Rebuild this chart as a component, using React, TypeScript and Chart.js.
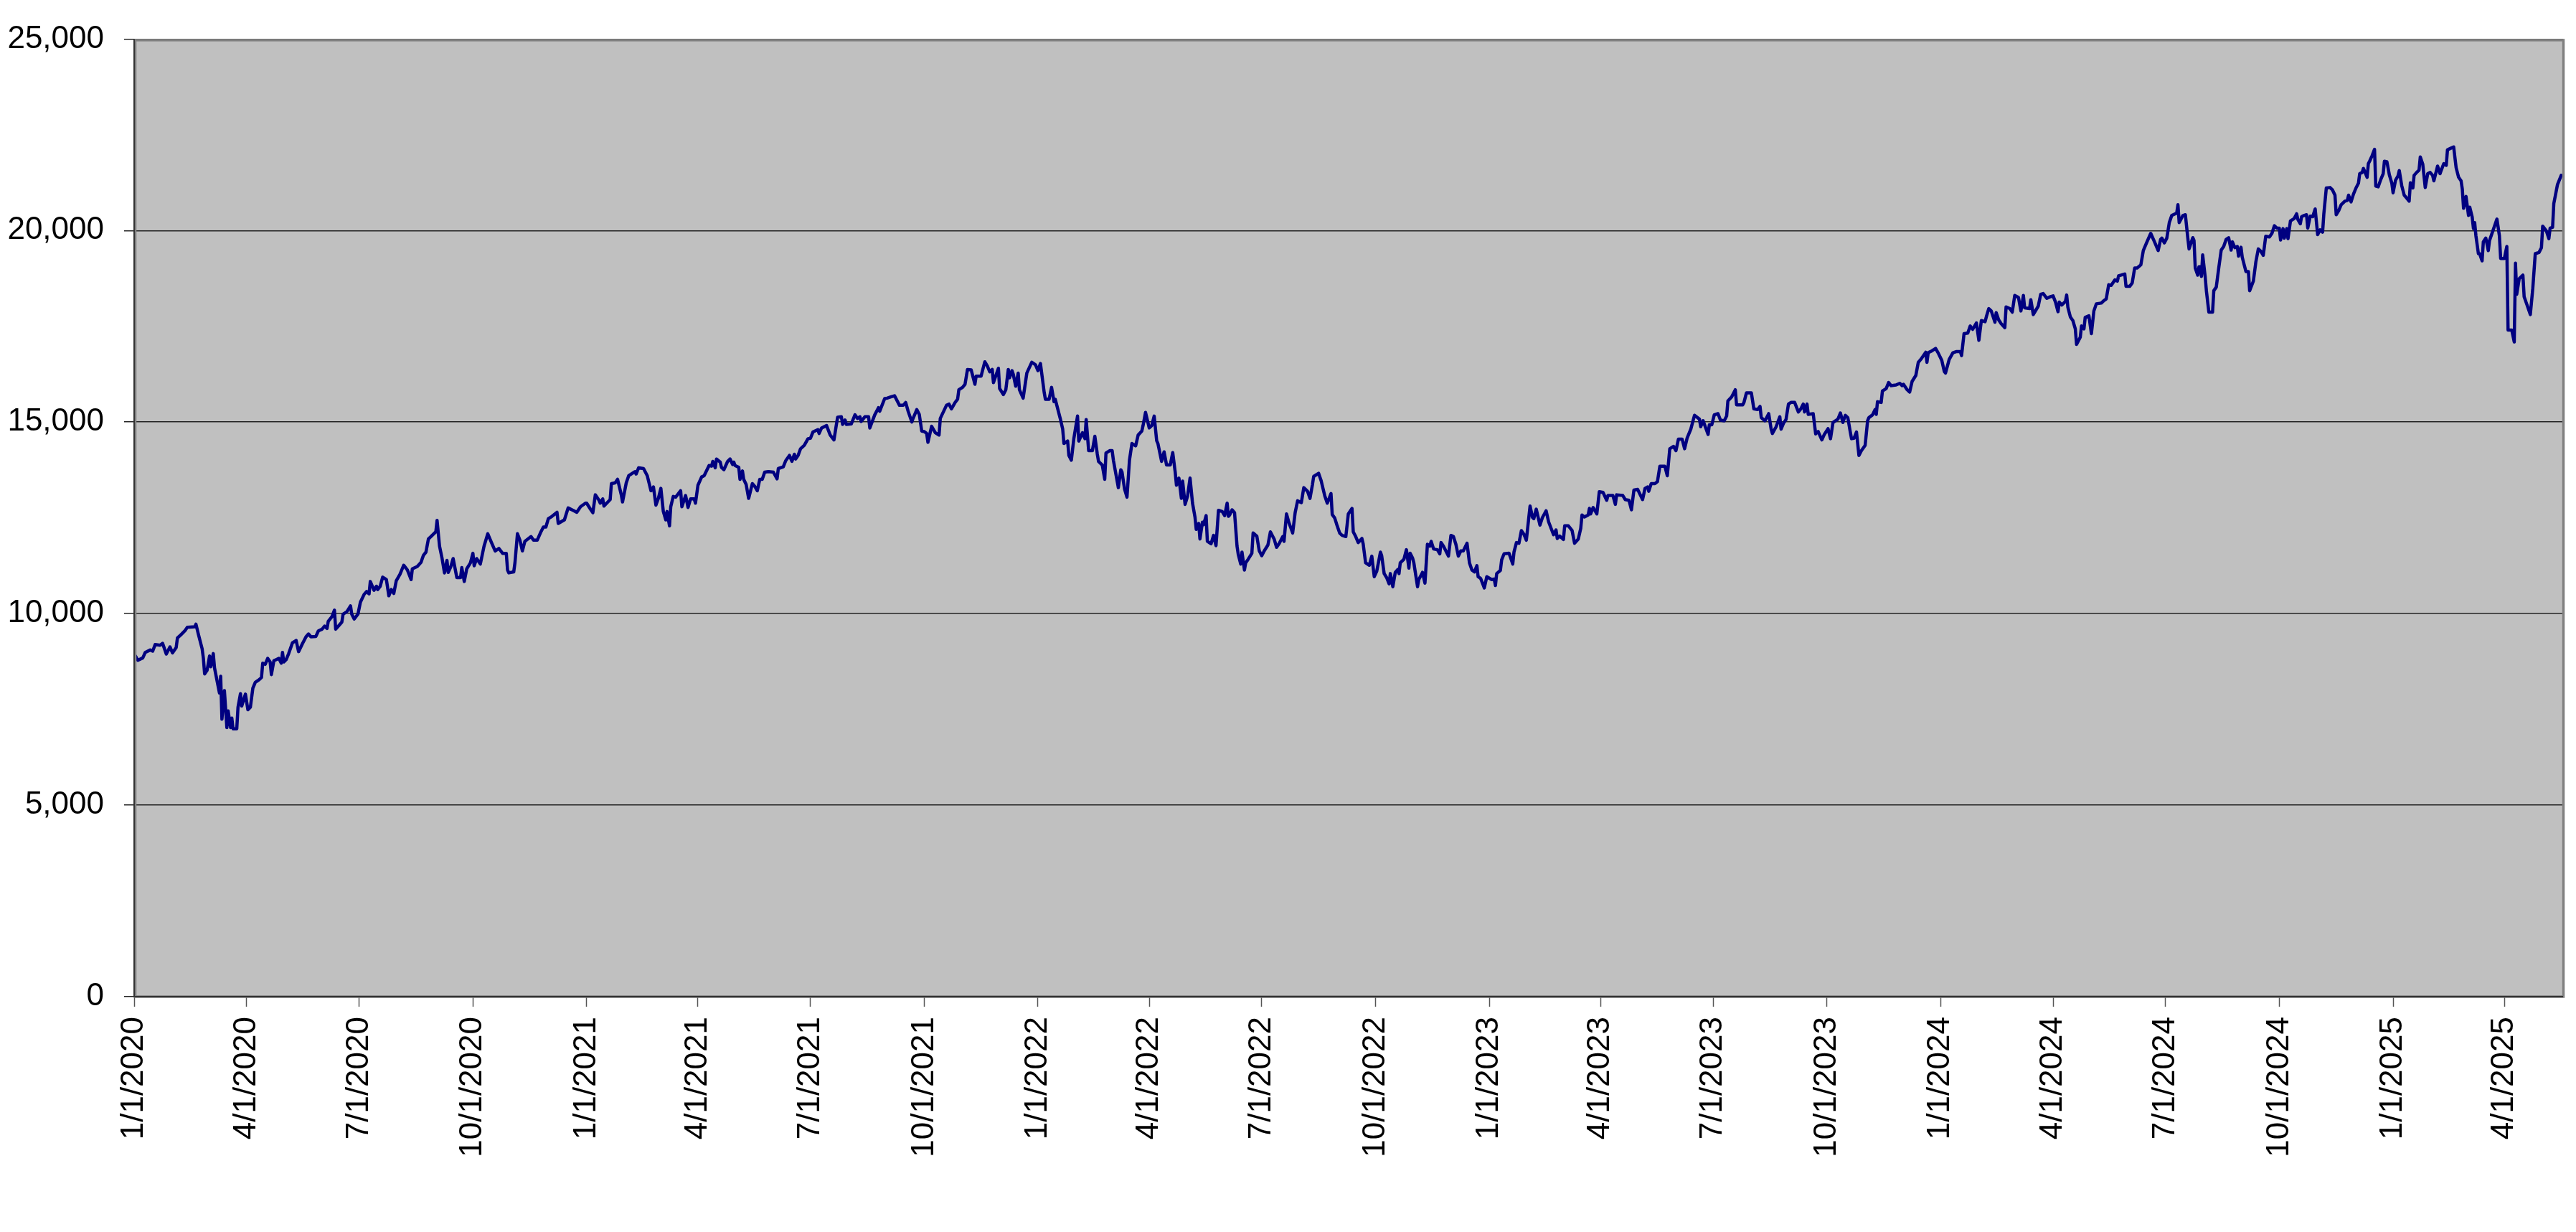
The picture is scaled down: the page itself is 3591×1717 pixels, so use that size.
import React, { useEffect, useRef } from 'react';
import { Chart, registerables } from 'chart.js';

Chart.register(...registerables);

// Quarter tick positions (days after 1/1/2020) and their labels
const tickDays = [0, 91, 182, 274, 366, 456, 547, 639, 731, 821, 912, 1004, 1096, 1186, 1277, 1369, 1461, 1552, 1643, 1735, 1827, 1917];
const tickLabels = [
  '1/1/2020', '4/1/2020', '7/1/2020', '10/1/2020',
  '1/1/2021', '4/1/2021', '7/1/2021', '10/1/2021',
  '1/1/2022', '4/1/2022', '7/1/2022', '10/1/2022',
  '1/1/2023', '4/1/2023', '7/1/2023', '10/1/2023',
  '1/1/2024', '4/1/2024', '7/1/2024', '10/1/2024',
  '1/1/2025', '4/1/2025',
];
const axisMaxDay = 1964.5;
const yMin = 0;
const yMax = 25000;
const yStep = 5000;

// Observation dates (days after 1/1/2020)
const dayOffsets = [
  1, 3, 7, 9, 13, 15, 17, 21, 23, 26,
  29, 31, 34, 35, 38, 41, 43, 49, 50, 52,
  55, 56, 57, 59, 61, 62, 64, 65, 69, 70,
  71, 73, 75, 76, 78, 79, 80, 83, 84, 86,
  87, 90, 92, 94, 96, 98, 101, 103, 104, 106,
  108, 110, 111, 113, 115, 117, 119, 120, 121, 123,
  125, 128, 131, 133, 136, 139, 141, 143, 147, 149,
  152, 154, 156, 157, 160, 162, 163, 166, 168, 169,
  172, 175, 176, 178, 181, 183, 186, 188, 190, 191,
  194, 196, 197, 199, 201, 204, 206, 208, 210, 212,
  215, 218, 221, 224, 225, 229, 232, 234, 236, 238,
  240, 244, 245, 247, 249, 251, 253, 254, 256, 258,
  261, 264, 265, 267, 269, 272, 274, 275, 277, 280,
  283, 286, 289, 292, 295, 298, 301, 302, 303, 307,
  308, 310, 312, 314, 316, 321, 323, 326, 329, 331,
  // 2021
  333, 335, 338, 342, 343, 348, 351, 355, 358, 361,
  365, 366, 369, 371, 373, 376, 377, 379, 380, 385,
  386, 389, 391, 394, 395, 398, 400, 405, 406, 408,
  412, 415, 418, 420, 422, 424, 426, 428, 430, 431,
  433, 434, 436, 438, 442, 443, 446, 448, 450, 453,
  454, 456, 459, 461, 465, 467, 468, 470, 471, 474,
  475, 477, 480, 482, 484, 485, 486, 489, 490, 492,
  493, 495, 497, 500, 502, 504, 506, 508, 510, 513,
  517, 520, 521, 525, 527, 530, 532, 534, 535, 537,
  539, 542, 545, 547, 549, 553, 554, 556, 560, 563,
  566, 568, 569, 572, 573, 575, 576, 580, 583, 585,
  587, 588, 591, 594, 595, 599, 602, 603, 607, 609,
  612, 615, 619, 622, 624, 626, 629, 630, 633, 635,
  637, 639, 641, 642, 645, 648, 651, 652, 657,
  // late 2021 - 2022
  659, 661, 664, 666, 667, 670, 672, 674, 677, 680,
  681, 685, 686, 688, 690, 692, 694, 695, 699, 700,
  703, 705, 707, 708, 710, 711, 713, 715, 716, 719,
  722, 726, 729, 731, 733, 736, 737, 740, 742, 744,
  745, 747, 749, 751, 752, 755, 756, 758, 760, 763,
  764, 767, 769, 770, 772, 775, 777, 779, 780, 783,
  785, 786, 789, 791, 792, 796, 798, 799, 801, 803,
  805, 807, 810, 812, 815, 816, 818, 821, 823, 825,
  827, 828, 831, 833, 835, 838, 840, 842, 843, 845,
  847, 848, 850, 852, 854, 856, 858, 859, 861, 862,
  864, 865, 867, 868, 871, 873, 875, 877, 880, 882,
  884, 885, 886, 888, 890, 892, 893, 895, 896, 898,
  899, 901, 904, 905, 908, 910, 912, 914, 917, 919,
  922, 924, 926, 929, 930, 932, 934, 937, 939, 941,
  944, 946, 949, 951, 953, 954, 958, 960, 963, 965,
  968, 969, 971, 973, 975, 977, 980, 982, 985,
  // late 2022 - 2023
  986, 988, 990, 993, 994, 996, 999, 1001, 1003, 1005,
  1008, 1009, 1011, 1013, 1015, 1016, 1018, 1020, 1022, 1023,
  1024, 1027, 1029, 1031, 1032, 1034, 1035, 1038, 1039, 1042,
  1044, 1046, 1048, 1049, 1051, 1054, 1056, 1057, 1059, 1063,
  1065, 1067, 1069, 1071, 1073, 1075, 1078, 1080, 1082, 1084,
  1086, 1087, 1089, 1092, 1094, 1098, 1100, 1101, 1102, 1105,
  1106, 1108, 1112, 1115, 1116, 1118, 1120, 1122, 1124, 1126,
  1129, 1131, 1132, 1134, 1137, 1139, 1142, 1144, 1148, 1150,
  1151, 1153, 1156, 1157, 1160, 1163, 1165, 1168, 1170, 1171,
  1173, 1176, 1177, 1178, 1180, 1183, 1185, 1188, 1191, 1192,
  1196, 1198, 1199, 1204, 1206, 1209, 1211, 1213, 1216, 1220,
  1222, 1224, 1225, 1227, 1230, 1232, 1234, 1238, 1240, 1242,
  1245, 1247, 1249, 1252, 1254, 1256, 1259, 1262, 1266, 1267,
  1269, 1273, 1274, 1276, 1278, 1281, 1283, 1286, 1288, 1289,
  1292, 1295, 1296, 1301, 1302, 1304, 1308, 1310, 1313,
  // late 2023 - mid 2024
  1315, 1316, 1319, 1322, 1324, 1325, 1328, 1331, 1332, 1334,
  1336, 1338, 1340, 1343, 1346, 1348, 1350, 1351, 1353, 1354,
  1358, 1360, 1362, 1365, 1367, 1370, 1372, 1374, 1378, 1380,
  1382, 1384, 1386, 1388, 1389, 1391, 1393, 1395, 1397, 1400,
  1402, 1403, 1406, 1408, 1409, 1410, 1413, 1414, 1417, 1419,
  1421, 1425, 1428, 1430, 1431, 1434, 1436, 1438, 1441, 1443,
  1445, 1449, 1450, 1451, 1454, 1457, 1459, 1462, 1464, 1465,
  1468, 1471, 1474, 1477, 1478, 1480, 1483, 1485, 1487, 1490,
  1492, 1494, 1497, 1498, 1500, 1502, 1505, 1506, 1508, 1510,
  1513, 1514, 1517, 1519, 1521, 1524, 1526, 1528, 1529, 1533,
  1534, 1536, 1540, 1542, 1544, 1547, 1550, 1552, 1554, 1556,
  1557, 1559, 1562, 1563, 1564, 1566, 1568, 1570, 1571, 1574,
  1575, 1577, 1578, 1581, 1583, 1585, 1587, 1591, 1593, 1595,
  1597, 1599, 1602, 1604, 1605, 1607, 1610, 1611, 1614, 1616,
  1618, 1620, 1623, 1625, 1628, 1631, 1634, 1637, 1639,
  // mid 2024 - 2025
  1640, 1642, 1644, 1646, 1648, 1652, 1653, 1654, 1657, 1659,
  1661, 1662, 1665, 1666, 1667, 1669, 1670, 1671, 1672, 1673,
  1675, 1676, 1678, 1681, 1682, 1684, 1686, 1688, 1690, 1692,
  1694, 1696, 1697, 1699, 1701, 1702, 1704, 1705, 1708, 1710,
  1711, 1714, 1716, 1718, 1720, 1722, 1724, 1727, 1729, 1731,
  1733, 1735, 1736, 1738, 1739, 1741, 1742, 1744, 1747, 1749,
  1750, 1752, 1753, 1755, 1757, 1758, 1760, 1762, 1764, 1766,
  1768, 1770, 1771, 1773, 1776, 1778, 1780, 1781, 1783, 1785,
  1788, 1790, 1791, 1793, 1795, 1797, 1799, 1800, 1802, 1803,
  1806, 1807, 1808, 1810, 1812, 1813, 1815, 1817, 1819, 1820,
  1822, 1824, 1826, 1827, 1829, 1831, 1832, 1834, 1836, 1838,
  1840, 1841, 1843, 1844, 1846, 1848, 1849, 1851, 1853, 1855,
  1857, 1859, 1860, 1863, 1865, 1866, 1868, 1870, 1871, 1873,
  1876, 1878, 1880, 1882, 1883, 1884, 1886, 1888, 1889, 1891,
  1892, 1893, 1894, 1896, 1897, 1899, 1900, 1902, 1904, 1905,
  1908, 1911, 1913, 1914, 1917, 1919, 1920, 1923, 1925, 1926,
  1927, 1929, 1932, 1933, 1935, 1938, 1940, 1942, 1945, 1947,
  1948, 1951, 1953, 1954, 1956, 1957, 1960, 1962, 1963,
];

// Index level at each observation
const values = [
  8894, 8782, 8844, 8988, 9050, 9020, 9193, 9175, 9225, 8944,
  9131, 8975, 9112, 9362, 9455, 9549, 9642, 9655, 9723, 9455,
  9081, 8832, 8427, 8521, 8894, 8614, 8957, 8583, 7928, 8365,
  7243, 7990, 7024, 7461, 7024, 7273, 6993, 6993, 7554, 7910,
  7585, 7897, 7492, 7554, 8053, 8209, 8271, 8333, 8707, 8676,
  8832, 8738, 8408, 8770, 8801, 8832, 8707, 8988, 8738, 8801,
  8957, 9237, 9299, 9007, 9206, 9393, 9468, 9393, 9405, 9549,
  9593, 9673, 9611, 9798, 9923, 10091, 9593, 9705, 9779, 9985,
  10047, 10203, 9985, 9860, 9985, 10297, 10502, 10577, 10515, 10839,
  10608, 10714, 10627, 10714, 10951, 10889, 10465, 10627, 10527, 10858,
  11026, 11263, 11138, 10889, 11169, 11231, 11338, 11524, 11605, 11948,
  12011, 12135, 12435, 11761, 11450, 11063, 11388, 11076, 11213, 11437,
  10939, 10939, 11200, 10839, 11169, 11325, 11574, 11250, 11437, 11294,
  11761, 12085, 11855, 11636, 11699, 11574, 11574, 11138, 11063, 11088,
  11325, 12085, 11917, 11636, 11886, 12011, 11917, 11917, 12135, 12260,
  // 2021
  12260, 12478, 12540, 12646, 12354, 12447, 12759, 12696, 12646, 12790,
  12883, 12883, 12728, 12634, 13101, 12958, 12883, 12995, 12808, 12977,
  13395, 13413, 13506, 13101, 12914, 13413, 13600, 13706, 13644, 13806,
  13787, 13600, 13207, 13307, 12833, 13008, 13270, 12665, 12447, 12665,
  12291, 12790, 13058, 13039, 13207, 12790, 13083, 12771, 12995, 12995,
  12883, 13351, 13569, 13600, 13868, 13849, 13974, 13806, 14036, 13955,
  13818, 13755, 13974, 14036, 13893, 13955, 13868, 13818, 13506, 13725,
  13506, 13369, 13008, 13395, 13320, 13207, 13506, 13506, 13693, 13706,
  13693, 13519, 13787, 13830, 13993, 14130, 13974, 14161, 14036, 14130,
  14305, 14392, 14566, 14579, 14741, 14803, 14703, 14847, 14909, 14660,
  14535, 14940, 15127, 15140, 14940, 15052, 14940, 14952, 15189, 15096,
  15140, 15015, 15140, 15140, 14847, 15189, 15376, 15283, 15613, 15625,
  15656, 15687, 15438, 15438, 15513, 15283, 15002, 15096, 15326, 15202,
  14766, 14753, 14703, 14473, 14890, 14722, 14660, 15096, 15438,
  // late 2021 - 2022
  15470, 15345, 15513, 15595, 15844, 15906, 15987, 16374, 16361, 15987,
  16199, 16199, 16324, 16573, 16467, 16311, 16374, 16031, 16405, 15875,
  15719, 15844, 16374, 16156, 16343, 16249, 15937, 16280, 15844, 15626,
  16280, 16561, 16498, 16343, 16530, 15782, 15595, 15595, 15906, 15533,
  15595, 15345, 15096, 14815, 14441, 14504, 14130, 14005, 14566, 15158,
  14504, 14722, 14566, 15065, 14255, 14255, 14629, 14161, 13974, 13880,
  13507, 14192, 14255, 14255, 14005, 13288, 13756, 13694, 13257, 13039,
  14005, 14441, 14379, 14660, 14766, 14909, 15252, 14847, 14909, 15158,
  14516, 14441, 13974, 14223, 13880, 13880, 14205, 13694, 13351, 13538,
  13008, 13457, 12852, 13070, 13538, 12883, 12522, 12198, 12354, 11948,
  12385, 12322, 12559, 11886, 11824, 12042, 11774, 12696, 12665, 12559,
  12883, 12541, 12572, 12709, 12634, 11761, 11543, 11294, 11606, 11138,
  11325, 11419, 11574, 12104, 12023, 11637, 11512, 11637, 11793, 12135,
  11948, 11730, 11824, 12011, 11886, 12603, 12372, 12104, 12634, 12946,
  12896, 13288, 13195, 13008, 13369, 13581, 13662, 13475, 13070, 12883,
  13133, 12584, 12497, 12291, 12104, 12042, 12011, 12603, 12746,
  // late 2022 - 2023
  12135, 12011, 11855, 11961, 11824, 11325, 11263, 11500, 10964, 11107,
  11606, 11512, 11045, 10939, 10777, 11045, 10702, 11076, 11151, 11045,
  11325, 11419, 11668, 11188, 11575, 11450, 11325, 10702, 10889, 11076,
  10795, 11811, 11761, 11886, 11686, 11668, 11562, 11855, 11761, 11500,
  12042, 12011, 11811, 11500, 11637, 11637, 11836, 11325, 11138, 11088,
  11250, 10964, 10920, 10671, 10964, 10889, 10902, 10733, 11045, 11126,
  11400, 11562, 11575, 11294, 11606, 11855, 11836, 12167, 12073, 11917,
  12808, 12509, 12478, 12727, 12310, 12509, 12684, 12397, 12060, 12185,
  11961, 12023, 11936, 12291, 12291, 12167, 11836, 11948, 12229, 12572,
  12522, 12572, 12746, 12603, 12771, 12603, 13182, 13164, 12958, 13083,
  13083, 12852, 13101, 13083, 12977, 12958, 12709, 13226, 13245, 12977,
  13270, 13307, 13195, 13395, 13395, 13444, 13849, 13849, 13600, 14305,
  14367, 14255, 14554, 14554, 14305, 14579, 14815, 15177, 15077, 14878,
  15034, 14678, 14928, 14928, 15189, 15220, 15052, 15034, 15158, 15551,
  15656, 15844, 15451, 15451, 15513, 15762, 15762, 15345, 15326,
  // late 2023 - mid 2024
  15408, 15115, 15034, 15221, 14815, 14703, 14878, 15140, 14815, 14971,
  15065, 15470, 15513, 15513, 15264, 15345, 15470, 15264, 15470, 15202,
  15221, 14691, 14753, 14535, 14678, 14828, 14566, 14990, 15077, 15239,
  14990, 15177, 15115, 14741, 14566, 14579, 14741, 14130, 14255, 14392,
  15034, 15115, 15189, 15326, 15202, 15532, 15513, 15813, 15875, 16031,
  15950, 15968, 16012, 15950, 15987, 15844, 15782, 16062, 16218, 16561,
  16636, 16823, 16561, 16810, 16860, 16922, 16810, 16610, 16324, 16280,
  16636, 16810, 16841, 16841, 16735, 17309, 17321, 17508, 17421, 17589,
  17134, 17651, 17620, 17745, 17963, 17901, 17608, 17857, 17670, 17570,
  17465, 18007, 17963, 17870, 18306, 18256, 17901, 18306, 17982, 17963,
  18194, 17807, 18025, 18337, 18356, 18231, 18275, 18294, 18131, 17882,
  18131, 18057, 18150, 18318, 17994, 17745, 17651, 17433, 17028, 17215,
  17508, 17433, 17733, 17776, 17309, 17901, 18088, 18107, 18169, 18213,
  18586, 18568, 18711, 18680, 18817, 18836, 18867, 18543, 18543, 18630,
  19022, 19022, 19104, 19477, 19708, 19926, 19708, 19477, 19770,
  // mid 2024 - 2025
  19802, 19677, 19802, 20207, 20394, 20456, 20674, 20207, 20394, 20413,
  19802, 19521, 19814, 19739, 19023, 18836, 19054, 19054, 18804, 19365,
  18804, 18430, 17869, 17869, 18430, 18524, 19023, 19490, 19584, 19771,
  19814, 19490, 19708, 19552, 19584, 19334, 19565, 19303, 18929, 18929,
  18430, 18680, 19178, 19521, 19459, 19353, 19852, 19833, 19927, 20126,
  20064, 20064, 19752, 20051, 19802, 20051, 19789, 20251, 20313, 20438,
  20288, 20176, 20363, 20394, 20413, 20064, 20375, 20363, 20563, 19895,
  20020, 19958, 20438, 21111, 21123, 21061, 20924, 20413, 20519, 20674,
  20768, 20787, 20924, 20749, 20955, 21111, 21236, 21485, 21516, 21622,
  21391, 21747, 21809, 21952, 22121, 21161, 21142, 21329, 21485, 21809,
  21796, 21453, 21236, 20986, 21316, 21428, 21566, 21173, 20924, 20849,
  20768, 21248, 21111, 21441, 21516, 21578, 21921, 21734, 21123, 21485,
  21516, 21441, 21298, 21684, 21485, 21578, 21747, 21703, 22108, 22139,
  22183, 21640, 21391, 21298, 21080, 20581, 20892, 20394, 20612, 20350,
  20051, 20207, 19864, 19397, 19397, 19209, 19708, 19802, 19478, 19739,
  20020, 20300, 19864, 19272, 19272, 19584, 17402, 17402, 17090, 19147,
  18337, 18742, 18836, 18275, 18088, 17807, 18493, 19397, 19428, 19552,
  20114, 19989, 19789, 20064, 20082, 20706, 21204, 21360, 21441,
];

const W = 3591;
const H = 1717;
const FONT = 'Arial, "Liberation Sans", sans-serif';

const plotFrame = {
  id: 'plotFrame',
  beforeDraw(chart: any) {
    const { ctx, chartArea: a } = chart;
    ctx.save();
    ctx.fillStyle = '#ffffff';
    ctx.fillRect(0, 0, chart.width, chart.height);
    ctx.fillStyle = '#C0C0C0';
    ctx.fillRect(a.left, a.top, a.right - a.left, a.bottom - a.top);
    ctx.restore();
  },
  afterDraw(chart: any) {
    const { ctx, chartArea: a } = chart;
    ctx.save();
    ctx.strokeStyle = '#808080';
    ctx.lineWidth = 3.5;
    ctx.strokeRect(a.left + 1.5, a.top + 1.5, a.right - a.left - 1, a.bottom - a.top - 1.5);
    ctx.strokeStyle = '#333333';
    ctx.lineWidth = 2;
    ctx.beginPath();
    ctx.moveTo(a.left, a.top);
    ctx.lineTo(a.left, a.bottom);
    ctx.lineTo(a.right, a.bottom);
    ctx.stroke();
    ctx.restore();
  },
};

export default function App() {
  const canvasRef = useRef<HTMLCanvasElement | null>(null);

  useEffect(() => {
    const canvas = canvasRef.current;
    if (!canvas) return;
    const n = Math.min(dayOffsets.length, values.length);
    const points = [] as { x: number; y: number }[];
    for (let i = 0; i < n; i++) points.push({ x: dayOffsets[i], y: values[i] });

    const chart = new Chart(canvas, {
      type: 'line',
      data: {
        datasets: [
          {
            data: points,
            borderColor: '#000080',
            borderWidth: 4.5,
            pointRadius: 0,
            pointHoverRadius: 0,
            tension: 0,
            fill: false,
            borderJoinStyle: 'round',
            borderCapStyle: 'round',
          },
        ],
      },
      options: {
        animation: false,
        responsive: false,
        maintainAspectRatio: false,
        events: [],
        layout: { padding: { left: 0, top: 52, right: 18, bottom: 0 } },
        plugins: {
          legend: { display: false },
          tooltip: { enabled: false },
          title: { display: false },
        },
        scales: {
          x: {
            type: 'linear',
            min: 0,
            max: axisMaxDay,
            afterFit: (scale: any) => {
              scale.height = 328;
            },
            afterBuildTicks: (scale: any) => {
              scale.ticks = tickDays.map((v) => ({ value: v }));
            },
            grid: {
              drawOnChartArea: false,
              drawTicks: true,
              tickLength: 14,
              tickColor: '#555555',
              tickWidth: 1.5,
            },
            border: { display: false },
            ticks: {
              autoSkip: false,
              maxRotation: 90,
              minRotation: 90,
              padding: 14,
              color: '#000000',
              font: { family: FONT, size: 44 },
              callback: (value: any) => {
                const i = tickDays.indexOf(Number(value));
                return i >= 0 ? tickLabels[i] : '';
              },
            },
          },
          y: {
            type: 'linear',
            min: yMin,
            max: yMax,
            afterFit: (scale: any) => {
              scale.width = 187;
            },
            grid: {
              color: '#222222',
              lineWidth: 1.5,
              drawTicks: true,
              tickLength: 14,
              tickColor: '#222222',
            },
            border: { display: false },
            ticks: {
              stepSize: yStep,
              padding: 28,
              color: '#000000',
              font: { family: FONT, size: 44 },
              callback: (value: any) => Number(value).toLocaleString('en-US'),
            },
          },
        },
      },
      plugins: [plotFrame],
    });

    return () => chart.destroy();
  }, []);

  return (
    <div
      style={{
        position: 'fixed',
        left: 0,
        top: 0,
        width: W,
        height: H,
        background: '#ffffff',
        overflow: 'hidden',
      }}
    >
      <canvas ref={canvasRef} width={W} height={H} style={{ display: 'block', width: W, height: H }} />
    </div>
  );
}
